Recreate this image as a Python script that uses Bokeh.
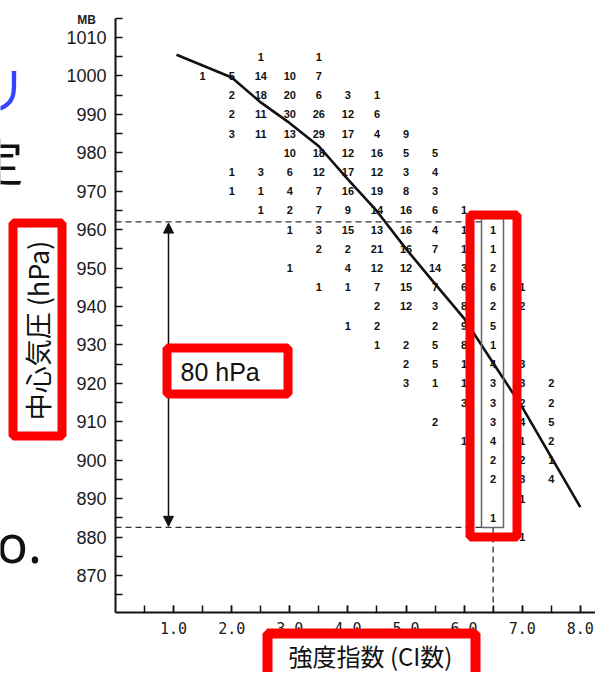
import math
from bokeh.plotting import figure
from bokeh.models import (FixedTicker, Label, BoxAnnotation, Arrow, NormalHead,
                          ColumnDataSource, PrintfTickFormatter)
from bokeh.embed import file_html
from bokeh.resources import INLINE
from bokeh.core.properties import value

# ---------------- data ----------------
ci_ticks = [1.0, 2.0, 3.0, 4.0, 5.0, 6.0, 7.0, 8.0]
ci_minor = [0.5, 1.0, 1.5, 2.0, 2.5, 3.0, 3.5, 4.0, 4.5, 5.0, 5.5, 6.0, 6.5, 7.0, 7.5, 8.0]
hpa_ticks = [870, 880, 890, 900, 910, 920, 930, 940, 950, 960, 970, 980, 990, 1000, 1010]
hpa_minor = [865, 875, 885, 895, 905, 915, 925, 935, 945, 955, 965, 975, 985, 995, 1005, 1015]

# mean curve (CI number -> central pressure)
curve_ci = [1.05, 1.5, 2.0, 2.5, 3.0, 3.5, 4.0, 4.5, 5.0, 5.5, 6.0, 6.5, 7.0, 7.5, 8.0]
curve_hpa = [1005.5, 1002.7, 999.6, 993.1, 987.7, 981.7, 973.1, 964.8, 955.0,
             945.9, 936.9, 925.3, 913.8, 900.8, 887.8]

# counts per CI column: {pressure: count}
col_15 = {1000: 1}
col_20 = {1000: 5, 995: 2, 990: 2, 985: 3, 975: 1, 970: 1}
col_25 = {1005: 1, 1000: 14, 995: 18, 990: 11, 985: 11, 975: 3, 970: 1, 965: 1}
col_30 = {1000: 10, 995: 20, 990: 30, 985: 13, 980: 10, 975: 6, 970: 4, 965: 2,
          960: 1, 950: 1}
col_35 = {1005: 1, 1000: 7, 995: 6, 990: 26, 985: 29, 980: 18, 975: 12, 970: 7,
          965: 7, 960: 3, 955: 2, 945: 1}
col_40 = {995: 3, 990: 12, 985: 17, 980: 12, 975: 17, 970: 16, 965: 9, 960: 15,
          955: 2, 950: 4, 945: 1, 935: 1}
col_45 = {995: 1, 990: 6, 985: 4, 980: 16, 975: 12, 970: 19, 965: 14, 960: 13,
          955: 21, 950: 12, 945: 7, 940: 2, 935: 2, 930: 1}
col_50 = {985: 9, 980: 5, 975: 3, 970: 8, 965: 16, 960: 16, 955: 16, 950: 12,
          945: 15, 940: 12, 930: 2, 925: 2, 920: 3}
col_55 = {980: 5, 975: 4, 970: 3, 965: 6, 960: 4, 955: 7, 950: 14, 945: 7, 940: 3,
          935: 2, 930: 5, 925: 5, 920: 1, 910: 2}
col_60 = {965: 1, 960: 1, 955: 1, 950: 3, 945: 6, 940: 8, 935: 9, 930: 8, 925: 1,
          920: 1, 915: 3, 905: 1}
col_65 = {960: 1, 955: 1, 950: 2, 945: 6, 940: 2, 935: 5, 930: 1, 925: 4, 920: 3,
          915: 3, 910: 3, 905: 4, 900: 2, 895: 2, 885: 1}
col_70 = {945: 1, 940: 2, 925: 3, 920: 3, 915: 2, 910: 4, 905: 1, 900: 2, 895: 3,
          890: 1, 880: 1}
col_75 = {920: 2, 915: 2, 910: 5, 905: 2, 900: 1, 895: 4}

columns = [(1.5, col_15), (2.0, col_20), (2.5, col_25), (3.0, col_30), (3.5, col_35),
           (4.0, col_40), (4.5, col_45), (5.0, col_50), (5.5, col_55), (6.0, col_60),
           (6.5, col_65), (7.0, col_70), (7.5, col_75)]

# reference levels of the highlighted column
ref_ci = 6.5
ref_hpa_top = 962.0
ref_hpa_bottom = 882.5

# ---------------- layout (reference pixel geometry) ----------------
W, H = 595, 672
AX_X, AX_Y = 115, 612         # axis lines in pixels
TOP_Y = 18
PX_PER_CI = 58.1
PX_PER_HPA = 3.843
Y870 = 575


def cx(px):
    return (px - AX_X) / PX_PER_CI


def cy(py):
    return 870 + (Y870 - py) / PX_PER_HPA


p = figure(width=W, height=H, x_range=(cx(0), cx(W)), y_range=(cy(H), cy(0)),
           output_backend="svg", toolbar_location=None,
           min_border_left=0, min_border_right=0, min_border_top=0, min_border_bottom=0)
p.outline_line_color = None
p.xgrid.visible = False
p.ygrid.visible = False
p.background_fill_color = "white"

# axes (drawn at the chart's origin, limited to the plotting area)
p.yaxis.fixed_location = 0.0
p.xaxis.fixed_location = cy(AX_Y)
p.yaxis.bounds = (cy(AX_Y), cy(TOP_Y))
p.xaxis.bounds = (0.0, cx(W))
p.yaxis.ticker = FixedTicker(ticks=hpa_ticks, minor_ticks=hpa_minor)
p.xaxis.ticker = FixedTicker(ticks=ci_ticks, minor_ticks=ci_minor)
p.xaxis.formatter = PrintfTickFormatter(format="%.1f")
for ax in (p.xaxis, p.yaxis):
    ax.axis_line_width = 2
    ax.axis_line_color = "#111111"
    ax.major_tick_in = 7
    ax.major_tick_out = 0
    ax.minor_tick_in = 7
    ax.minor_tick_out = 0
    ax.major_tick_line_width = 1.5
    ax.minor_tick_line_width = 1.5
    ax.major_tick_line_color = "#111111"
    ax.minor_tick_line_color = "#111111"
    ax.major_label_text_color = "#1a1a1a"
p.yaxis.major_label_text_font = "Liberation Sans"
p.yaxis.major_label_text_font_size = "18px"
p.yaxis.major_label_standoff = 9
p.xaxis.major_label_text_font = "DejaVu Sans Mono"
p.xaxis.major_label_text_font_size = "15px"
p.xaxis.major_label_standoff = 9

# count numbers
xs, ys, ts = [], [], []
for ci, col in columns:
    for hpa, n in col.items():
        xs.append(ci)
        ys.append(hpa)
        ts.append(str(n))
src = ColumnDataSource(dict(x=xs, y=ys, t=ts))
p.text(x="x", y="y", text="t", source=src, text_font=value("Liberation Sans"),
       text_font_style="bold", text_font_size="11px", text_align="center",
       text_baseline="middle", text_color="#111111")

# mean curve
p.line(curve_ci, curve_hpa, line_width=2.6, line_color="#111111")

# dashed reference lines
box_l, box_r = cx(481), cx(503)
p.line([0, box_l], [ref_hpa_top, ref_hpa_top], line_dash="6 4", line_color="#333333", line_width=1.3)
p.line([0, box_l], [ref_hpa_bottom, ref_hpa_bottom], line_dash="6 4", line_color="#333333", line_width=1.3)
p.line([ref_ci, ref_ci], [cy(AX_Y), ref_hpa_bottom], line_dash="6 4", line_color="#333333", line_width=1.3)

# thin grey box around the 6.5 column
p.quad(left=[box_l], right=[box_r], top=[cy(218)], bottom=[cy(527)],
       fill_color=None, line_color="#666666", line_width=1.5)

# double arrow (80 hPa)
ax_ci = cx(168)
p.add_layout(Arrow(x_start=ax_ci, y_start=ref_hpa_bottom + 0.3, x_end=ax_ci, y_end=ref_hpa_top - 0.3,
                   start=NormalHead(size=10, fill_color="#111111", line_color="#111111"),
                   end=NormalHead(size=10, fill_color="#111111", line_color="#111111"),
                   line_width=1.5, line_color="#111111"))

RED = "#ff0000"


def red_box(l, t, r, b, lw, fill=None):
    h = lw / 2
    kw = dict(left=cx(l + h), right=cx(r - h), top=cy(t + h), bottom=cy(b - h),
              line_color=RED, line_width=lw, line_alpha=1.0)
    if fill:
        kw.update(fill_color=fill, fill_alpha=1.0)
    else:
        kw.update(fill_alpha=0.0)
    p.add_layout(BoxAnnotation(**kw))


red_box(465, 210, 521, 541, 9)
red_box(162, 343, 292, 398, 9, fill="white")
red_box(8, 218, 66, 440, 9, fill="white")
red_box(262, 628, 480, 700, 10, fill="white")

p.add_layout(Label(x=cx(180), y=cy(371), text="80 hPa", text_font="Liberation Sans",
                   text_font_size="25px", text_align="left", text_baseline="middle",
                   text_color="#111111"))
p.add_layout(Label(x=cx(37), y=cy(330), text="中心気圧 (hPa)", text_font="Noto Sans CJK JP",
                   text_font_size="27px", text_align="center", text_baseline="middle",
                   angle=math.pi / 2, text_color="#111111"))
p.add_layout(Label(x=cx(370), y=cy(655), text="強度指数 (CI数)", text_font="Noto Sans CJK JP",
                   text_font_size="24px", text_align="center", text_baseline="middle",
                   text_color="#111111"))
p.add_layout(Label(x=cx(86), y=cy(19), text="MB", text_font="Liberation Sans",
                   text_font_size="12px", text_font_style="bold", text_align="center",
                   text_baseline="middle", text_color="#222222"))

# fragments of slide text cut off at the left edge
p.add_layout(Label(x=cx(2), y=cy(86), text="リ", text_font="Noto Sans CJK JP",
                   text_font_size="50px", text_align="center", text_baseline="middle",
                   text_color="#3344ff"))
p.add_layout(Label(x=cx(-2), y=cy(158), text="定", text_font="Noto Sans CJK JP",
                   text_font_size="50px", text_align="center", text_baseline="middle",
                   text_color="#111111"))
p.add_layout(Label(x=cx(-4), y=cy(542), text="o.", text_font="Noto Sans",
                   text_font_size="52px", text_align="left", text_baseline="middle",
                   text_color="#111111"))

open("out.html", "w").write(file_html(p, INLINE))
